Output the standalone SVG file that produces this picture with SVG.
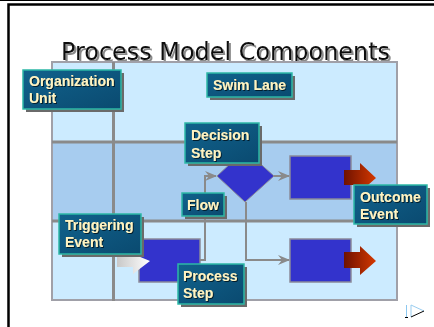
<svg xmlns="http://www.w3.org/2000/svg" width="434" height="327" viewBox="0 0 434 327">
<style>
.lbl rect.b{fill:url(#boxg);stroke:#2DB8A6;stroke-width:1.5}
.lbl rect.s{fill:#6a6a6a}
.lbl text{font-family:"Liberation Sans",Arial,sans-serif;font-weight:bold;font-size:14px;fill:#FFF4C2;filter:url(#ts)}
.grid{stroke:#8a8a8a;stroke-width:3}
.flow{fill:none;stroke:#8a8a8a;stroke-width:2}
.step{fill:#3333CC;stroke:#8a8a9a;stroke-width:1.5}
</style>
<defs>
<linearGradient id="boxg" x1="0" y1="0" x2="1" y2="1">
<stop offset="0" stop-color="#11628C"/>
<stop offset="1" stop-color="#0A4A70"/>
</linearGradient>
<linearGradient id="redg" x1="0" y1="0" x2="1" y2="0">
<stop offset="0" stop-color="#6E1200"/>
<stop offset="1" stop-color="#D43800"/>
</linearGradient>
<linearGradient id="grayg" x1="0" y1="0" x2="1" y2="0">
<stop offset="0" stop-color="#C8C8C8"/>
<stop offset="1" stop-color="#FFFFFF"/>
</linearGradient>
<filter id="ts" x="-10%" y="-20%" width="130%" height="150%">
<feDropShadow dx="1" dy="1" stdDeviation="0.3" flood-color="#001822" flood-opacity="0.9"/>
</filter>
<filter id="tt" x="-5%" y="-20%" width="110%" height="150%">
<feDropShadow dx="2" dy="2" stdDeviation="0.4" flood-color="#8a8a8a" flood-opacity="1"/>
</filter>
<marker id="ah" viewBox="0 0 12 10" refX="11" refY="5" markerWidth="12" markerHeight="10" markerUnits="userSpaceOnUse" orient="auto">
<path d="M0,0 L12,5 L0,10 L4,5 Z" fill="#8a8a8a"/>
</marker>
</defs>
<rect x="0" y="0" width="434" height="327" fill="#FFFFFF"/>
<line x1="0" y1="0.5" x2="434" y2="0.5" stroke="#000" stroke-width="1"/>
<path d="M8.5,330 V4.5 H440" fill="none" stroke="#000" stroke-width="2.5"/>

<g id="title">
<text x="61" y="60" font-family="DejaVu Sans, Verdana, sans-serif" font-size="24" fill="#111" textLength="329" lengthAdjust="spacingAndGlyphs" filter="url(#tt)">Process Model Components</text>
</g>

<g id="swimlanes">
<rect x="52" y="62" width="345" height="238" fill="#CCEBFF" stroke="#a0a0a8" stroke-width="2"/>
<rect x="53" y="142" width="343" height="79" fill="#A7CCEF"/>
<line class="grid" x1="52" y1="142" x2="397" y2="142"/>
<line class="grid" x1="52" y1="221" x2="397" y2="221"/>
<line class="grid" x1="113.5" y1="62" x2="113.5" y2="301"/>
</g>

<g id="steps">
<rect id="process-rect" class="step" x="139" y="239" width="61" height="43"/>
<rect id="top-rect" class="step" x="290" y="156" width="61" height="43"/>
<rect id="bottom-rect" class="step" x="290" y="239" width="61" height="43"/>
<polygon id="diamond" points="245,150 274,176 245,202 217,176" fill="#3333CC" stroke="#8a8a9a" stroke-width="1"/>
</g>

<g id="connectors">
<path class="flow" d="M200,260 H205 V176 H216" marker-end="url(#ah)"/>
<path class="flow" d="M274,176 H289" marker-end="url(#ah)"/>
<path class="flow" d="M246,202 V260 H289" marker-end="url(#ah)"/>
</g>

<g id="event-arrows">
<path id="trigger-arrow" d="M117,256 H133 V254 L150,261 L133,274 V267 H117 Z" fill="url(#grayg)"/>
<path id="outcome-arrow-1" d="M344,170 H360 V163 L376,178 L360,192 V185 H344 Z" fill="url(#redg)"/>
<path id="outcome-arrow-2" d="M344,252 H360 V246 L376,261 L360,275 V268 H344 Z" fill="url(#redg)"/>
</g>

<g id="organization-unit" class="lbl">
<rect class="s" x="26" y="73" width="98" height="39"/>
<rect class="b" x="23" y="70" width="98" height="39"/>
<text x="29" y="86">Organization</text>
<text x="29" y="103">Unit</text>
</g>

<g id="swim-lane" class="lbl">
<rect class="s" x="210" y="76" width="85" height="24"/>
<rect class="b" x="207" y="73" width="85" height="24"/>
<text x="213" y="90">Swim Lane</text>
</g>

<g id="decision-step" class="lbl">
<rect class="s" x="188" y="126" width="74" height="40"/>
<rect class="b" x="185" y="123" width="74" height="40"/>
<text x="191" y="140">Decision</text>
<text x="191" y="158">Step</text>
</g>

<g id="flow" class="lbl">
<rect class="s" x="185" y="196" width="42" height="23"/>
<rect class="b" x="182" y="193" width="42" height="23"/>
<text x="187" y="210">Flow</text>
</g>

<g id="triggering-event" class="lbl">
<rect class="s" x="62" y="217" width="82" height="40"/>
<rect class="b" x="59" y="214" width="82" height="40"/>
<text x="65" y="230">Triggering</text>
<text x="65" y="247">Event</text>
</g>

<g id="process-step" class="lbl">
<rect class="s" x="181" y="267" width="66" height="40"/>
<rect class="b" x="178" y="264" width="66" height="40"/>
<text x="183" y="281">Process</text>
<text x="183" y="298">Step</text>
</g>

<g id="outcome-event" class="lbl">
<rect class="s" x="357" y="188" width="73" height="39"/>
<rect class="b" x="354" y="185" width="73" height="39"/>
<text x="360" y="202">Outcome</text>
<text x="360" y="219">Event</text>
</g>

<g id="nav-icon">
<line x1="406.5" y1="305" x2="406.5" y2="317" stroke="#8CC8F0" stroke-width="1"/>
<line x1="405" y1="317.5" x2="408" y2="317.5" stroke="#000" stroke-width="1"/>
<path d="M411,305 L424,311" stroke="#9ACDF0" stroke-width="1" fill="none"/>
<path d="M411,305 V317" stroke="#9ACDF0" stroke-width="1" fill="none"/>
<path d="M411,317 L424,311" stroke="#000" stroke-width="1" fill="none"/>
</g>
</svg>
